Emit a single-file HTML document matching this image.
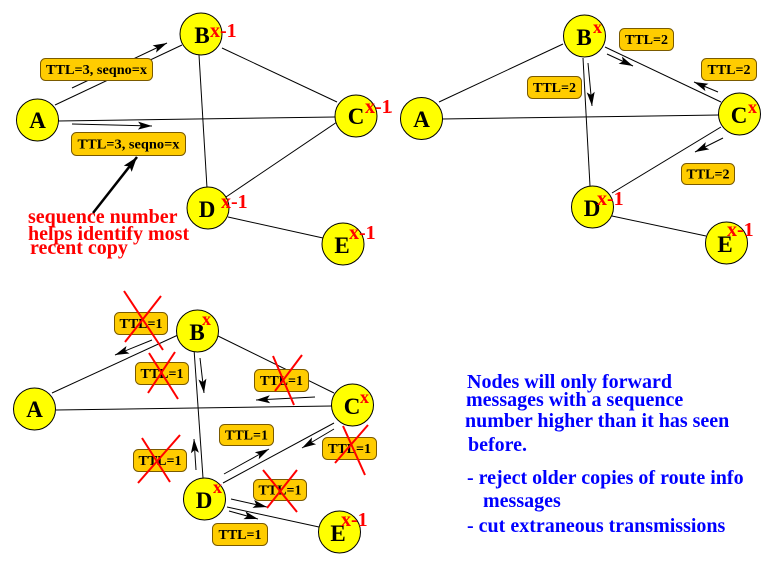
<!DOCTYPE html>
<html>
<head>
<meta charset="utf-8">
<style>
  html,body{margin:0;padding:0;background:#fff;}
  svg{display:block;}
  text{font-family:"Liberation Serif","DejaVu Serif",serif;font-weight:bold;}
  .ln{stroke:#000;stroke-width:1;fill:none;}
  .ar{stroke:#000;stroke-width:1;fill:none;marker-end:url(#ah);}
  .bx{fill:#ffcc00;stroke:#7a5a00;stroke-width:1;}
  .bt{font-size:14px;fill:#000;text-anchor:middle;}
  .nd{fill:#ffff00;stroke:#000;stroke-width:1;}
  .nl{font-size:23px;fill:#000;text-anchor:middle;}
  .sp{font-size:20px;fill:#ff0000;}
  .sx{font-size:18px;fill:#ff0000;}
  .xx{stroke:#ff0000;stroke-width:2;}
  .rt{font-size:20px;fill:#ff0000;}
  .bl{font-size:20px;fill:#0000ff;}
</style>
</head>
<body>
<svg width="779" height="562" viewBox="0 0 779 562" xmlns="http://www.w3.org/2000/svg">
<defs>
  <marker id="ah" markerUnits="userSpaceOnUse" markerWidth="16" markerHeight="10" refX="14" refY="4" orient="auto" overflow="visible">
    <path d="M0,0 L14,4 L0,8 L3,4 Z" fill="#000"/>
  </marker>
  <marker id="ah2" markerUnits="userSpaceOnUse" markerWidth="18" markerHeight="12" refX="15" refY="5" orient="auto" overflow="visible">
    <path d="M0,0 L15,5 L0,10 L3,5 Z" fill="#000"/>
  </marker>
</defs>

<!-- ================= PANEL 1 ================= -->
<line class="ln" x1="55" y1="105" x2="182" y2="45"/>
<line class="ln" x1="58" y1="121" x2="335" y2="117"/>
<line class="ln" x1="222" y1="48" x2="337" y2="102"/>
<line class="ln" x1="199" y1="55" x2="207" y2="188"/>
<line class="ln" x1="337" y1="122" x2="226" y2="197"/>
<line class="ln" x1="228" y1="217" x2="323" y2="238"/>

<line class="ar" x1="72" y1="88" x2="167" y2="43"/>
<line class="ar" x1="72" y1="124" x2="152" y2="126"/>
<line x1="93" y1="213" x2="137" y2="157" stroke="#000" stroke-width="2.5" marker-end="url(#ah2)"/>

<rect class="bx" x="40.5" y="58.5" width="112" height="22" rx="5"/>
<text class="bt" x="96.5" y="74" textLength="101" lengthAdjust="spacingAndGlyphs">TTL=3, seqno=x</text>
<rect class="bx" x="71.5" y="132.5" width="114" height="23" rx="5"/>
<text class="bt" x="128.5" y="148.5" textLength="102" lengthAdjust="spacingAndGlyphs">TTL=3, seqno=x</text>

<circle class="nd" cx="37.5" cy="120" r="21"/>
<circle class="nd" cx="201" cy="34" r="21"/>
<circle class="nd" cx="356" cy="116" r="21"/>
<circle class="nd" cx="208" cy="208" r="21"/>
<circle class="nd" cx="343" cy="244" r="21"/>
<text class="nl" x="37.5" y="128">A</text>
<text class="nl" x="202" y="43">B</text>
<text class="nl" x="356" y="124">C</text>
<text class="nl" x="207" y="217">D</text>
<text class="nl" x="342" y="253">E</text>
<text class="sp" x="210" y="37">x-1</text>
<text class="sp" x="365" y="113">x-1</text>
<text class="sp" x="221" y="208">x-1</text>
<text class="sp" x="349" y="239">x-1</text>

<text class="rt" x="28" y="223">sequence number</text>
<text class="rt" x="28" y="240">helps identify most</text>
<text class="rt" x="30" y="254">recent copy</text>

<!-- ================= PANEL 2 ================= -->
<line x1="389" y1="112" x2="392" y2="112" stroke="#ff0000" stroke-width="1"/>
<line class="ln" x1="439" y1="102" x2="563" y2="44"/>
<line class="ln" x1="442" y1="119" x2="719" y2="115"/>
<line class="ln" x1="605" y1="47" x2="721" y2="102"/>
<line class="ln" x1="583" y1="58" x2="590" y2="186"/>
<line class="ln" x1="721" y1="127" x2="612" y2="193"/>
<line class="ln" x1="612" y1="216" x2="706" y2="236"/>

<line class="ar" x1="607" y1="54" x2="633" y2="66"/>
<line class="ar" x1="718" y1="92" x2="694" y2="82"/>
<line class="ar" x1="588" y1="63" x2="592" y2="106"/>
<line class="ar" x1="723" y1="138" x2="695" y2="152"/>

<rect class="bx" x="619.5" y="28.5" width="54" height="22" rx="5"/>
<text class="bt" x="646.5" y="44">TTL=2</text>
<rect class="bx" x="701.5" y="58.5" width="55" height="22" rx="5"/>
<text class="bt" x="729" y="74">TTL=2</text>
<rect class="bx" x="527.5" y="76.5" width="54" height="22" rx="5"/>
<text class="bt" x="554.5" y="92">TTL=2</text>
<rect class="bx" x="681.5" y="163.5" width="53" height="21" rx="5"/>
<text class="bt" x="708" y="178.5">TTL=2</text>

<circle class="nd" cx="421.5" cy="118.5" r="21"/>
<circle class="nd" cx="584.5" cy="36" r="21"/>
<circle class="nd" cx="739.5" cy="114" r="21"/>
<circle class="nd" cx="592.5" cy="207" r="21"/>
<circle class="nd" cx="726.5" cy="243" r="21"/>
<text class="nl" x="421.5" y="127">A</text>
<text class="nl" x="584" y="45">B</text>
<text class="nl" x="739" y="123">C</text>
<text class="nl" x="592" y="216">D</text>
<text class="nl" x="725" y="252">E</text>
<text class="sx" x="593" y="33">x</text>
<text class="sx" x="748" y="113">x</text>
<text class="sp" x="597" y="205">x-1</text>
<text class="sp" x="727" y="236">x-1</text>

<!-- ================= PANEL 3 ================= -->
<line class="ln" x1="52" y1="393" x2="178" y2="335"/>
<line class="ln" x1="56" y1="410" x2="332" y2="406"/>
<line class="ln" x1="218" y1="336" x2="334" y2="393"/>
<line class="ln" x1="194" y1="349" x2="203" y2="478"/>
<line class="ln" x1="334" y1="423" x2="223" y2="483"/>
<line class="ln" x1="227" y1="507" x2="319" y2="527"/>

<line class="ar" x1="152" y1="340" x2="115" y2="355"/>
<line class="ar" x1="200" y1="358" x2="204" y2="393"/>
<line class="ar" x1="315" y1="397" x2="256" y2="400"/>
<line class="ar" x1="196" y1="470" x2="194" y2="439"/>
<line class="ar" x1="224" y1="474" x2="269" y2="449"/>
<line class="ar" x1="334" y1="429" x2="302" y2="448"/>
<line class="ar" x1="231" y1="499" x2="267" y2="507"/>
<line class="ar" x1="229" y1="511" x2="258" y2="519"/>

<rect class="bx" x="114.5" y="312.5" width="53" height="22" rx="5"/>
<text class="bt" x="141" y="328">TTL=1</text>
<rect class="bx" x="135.5" y="362.5" width="53" height="22" rx="5"/>
<text class="bt" x="162" y="378">TTL=1</text>
<rect class="bx" x="254.5" y="369.5" width="54" height="22" rx="5"/>
<text class="bt" x="281.5" y="385">TTL=1</text>
<rect class="bx" x="219.5" y="424.5" width="54" height="21" rx="5"/>
<text class="bt" x="246.5" y="439.5">TTL=1</text>
<rect class="bx" x="133.5" y="449.5" width="53" height="22" rx="5"/>
<text class="bt" x="160" y="465">TTL=1</text>
<rect class="bx" x="322.5" y="437.5" width="54" height="22" rx="5"/>
<text class="bt" x="349.5" y="453">TTL=1</text>
<rect class="bx" x="253.5" y="479.5" width="53" height="21" rx="5"/>
<text class="bt" x="280" y="494.5">TTL=1</text>
<rect class="bx" x="212.5" y="523.5" width="55" height="22" rx="5"/>
<text class="bt" x="240" y="539">TTL=1</text>

<!-- red crosses -->
<line class="xx" x1="124" y1="291" x2="163" y2="350"/>
<line class="xx" x1="161" y1="296" x2="125" y2="342"/>
<line class="xx" x1="149" y1="353" x2="178" y2="399"/>
<line class="xx" x1="175" y1="352" x2="148" y2="393"/>
<line class="xx" x1="273" y1="356" x2="294" y2="405"/>
<line class="xx" x1="302" y1="355" x2="275" y2="391"/>
<line class="xx" x1="142" y1="438" x2="170" y2="482"/>
<line class="xx" x1="180" y1="435" x2="138" y2="483"/>
<line class="xx" x1="343" y1="426" x2="365" y2="475"/>
<line class="xx" x1="368" y1="425" x2="335" y2="463"/>
<line class="xx" x1="263" y1="470" x2="297" y2="512"/>
<line class="xx" x1="297" y1="470" x2="267" y2="508"/>

<circle class="nd" cx="34.5" cy="409" r="21"/>
<circle class="nd" cx="197.5" cy="331" r="21"/>
<circle class="nd" cx="352.5" cy="405" r="21"/>
<circle class="nd" cx="204.5" cy="499" r="21"/>
<circle class="nd" cx="339.5" cy="532" r="21"/>
<text class="nl" x="34.5" y="417">A</text>
<text class="nl" x="197" y="340">B</text>
<text class="nl" x="352" y="414">C</text>
<text class="nl" x="204" y="508">D</text>
<text class="nl" x="338" y="541">E</text>
<text class="sx" x="202" y="325">x</text>
<text class="sx" x="360" y="403">x</text>
<text class="sx" x="213" y="493">x</text>
<text class="sp" x="341" y="526">x-1</text>

<!-- ================= TEXT BLOCK ================= -->
<text class="bl" x="467" y="388">Nodes will only forward</text>
<text class="bl" x="466" y="406">messages with a sequence</text>
<text class="bl" x="465" y="427">number higher than it has seen</text>
<text class="bl" x="468" y="451">before.</text>
<text class="bl" x="467" y="484">- reject older copies of route info</text>
<text class="bl" x="483" y="507">messages</text>
<text class="bl" x="467" y="532">- cut extraneous transmissions</text>
</svg>
</body>
</html>
